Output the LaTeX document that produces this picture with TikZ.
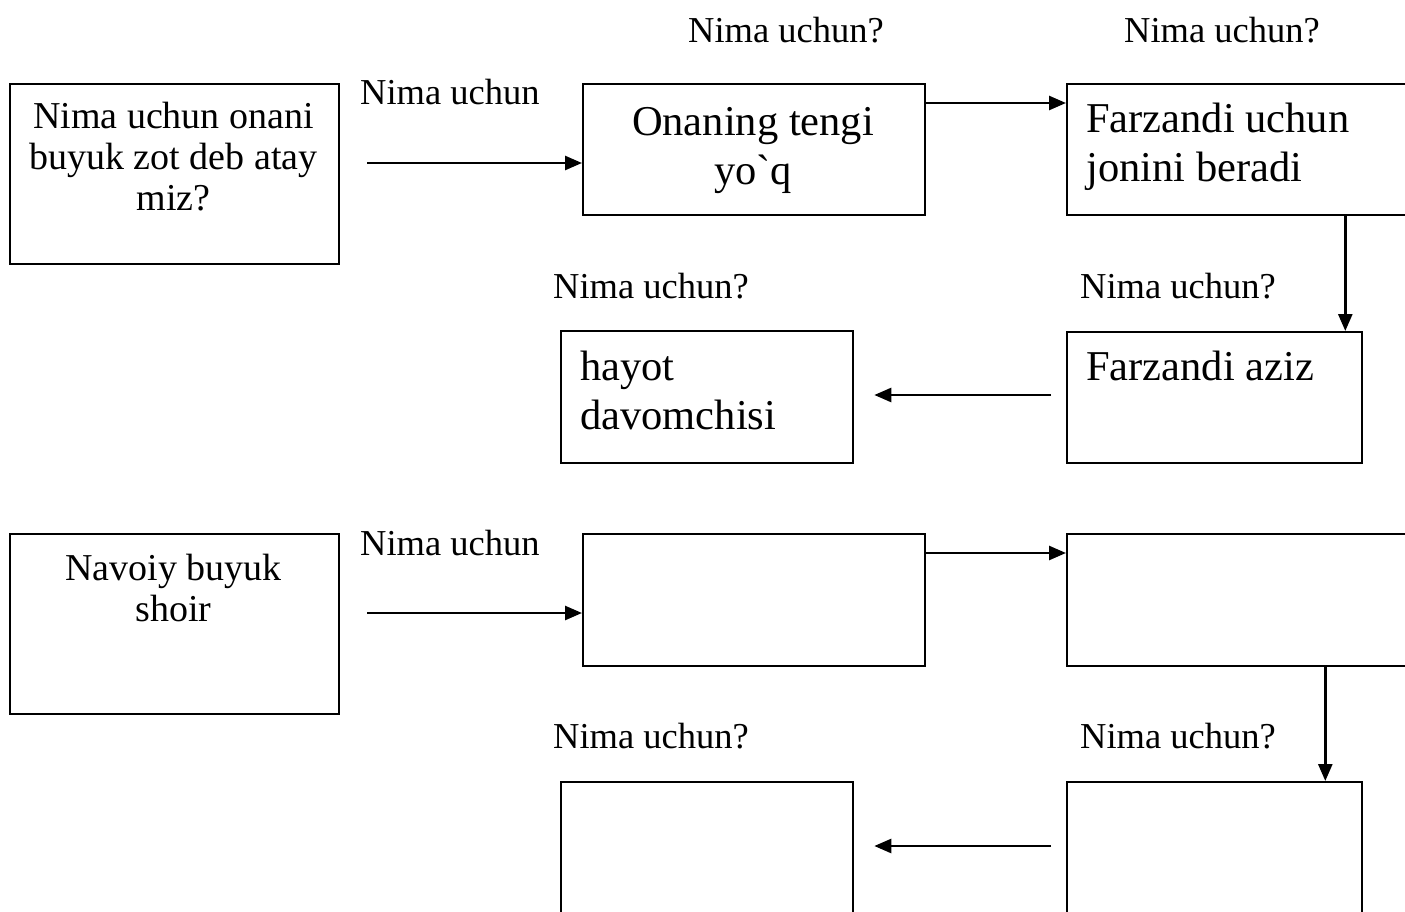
\documentclass[tikz,border=0pt]{standalone}
\usepackage{fontspec}
\setmainfont{Liberation Serif}
\newfontfamily\rawserif{Liberation Serif}
\usetikzlibrary{arrows.meta}
\tikzset{
  box/.style={draw=black, line width=2.3pt, rectangle, inner sep=0pt, anchor=north west},
  lbl/.style={inner sep=0pt, anchor=base west, font=\fontsize{36.5}{43}\selectfont},
  txta/.style={inner sep=0pt, anchor=base, align=center, font=\fontsize{38}{41}\selectfont},
  txtb/.style={inner sep=0pt, anchor=base, align=center, font=\fontsize{42.5}{49}\selectfont},
  txtl/.style={inner sep=0pt, anchor=base west, align=left, font=\fontsize{42.5}{49}\selectfont},
  arr/.style={line width=2.6pt, -{Triangle[length=17pt,width=14pt]}}
}
\begin{document}
\begin{tikzpicture}[x=1pt,y=-1pt]
\useasboundingbox (0,0) rectangle (1405,912);
\fill[white] (0,0) rectangle (1405,912);
% ---------- upper diagram ----------
\node[box, minimum width=329pt, minimum height=180pt] (A) at (9,83) {};
\node[box, minimum width=342pt, minimum height=131pt] (B) at (582,83) {};
\node[box, minimum width=360pt, minimum height=131pt] (C) at (1066,83) {};
\node[box, minimum width=295pt, minimum height=131pt] (D) at (1066,331) {};
\node[box, minimum width=292pt, minimum height=132pt] (E) at (560,330) {};
% multi-line texts: anchor 'base' is the baseline of the last line
\node[txta] (At) at (173.5,211) {Nima uchun onani\\buyuk zot deb atay\\miz?};
\node[txtb] (Bt) at (753,185) {Onaning tengi\\{\rawserif yo`q}};
\node[txtl] (Ct) at (1086,182) {Farzandi uchun\\jonini beradi};
\node[txtl] (Dt) at (1086,380) {Farzandi aziz};
\node[txtl] (Et) at (580,429) {hayot\\davomchisi};
\node[lbl] (L1) at (360,105) {Nima uchun};
\node[lbl] (L2) at (688,43) {Nima uchun?};
\node[lbl] (L3) at (1124,43) {Nima uchun?};
\node[lbl] (L4) at (553,298) {Nima uchun?};
\node[lbl] (L5) at (1080,298) {Nima uchun?};
\coordinate (a1) at (367,163);
\coordinate (d1) at (1051,395);
\draw[arr] (a1) -- (a1 -| B.west);
\draw[arr] ([yshift=-20pt]B.north east) -- ([yshift=-20pt]B.north east -| C.west);
\draw[arr] ([xshift=-18pt]D.north east |- C.south) -- ([xshift=-18pt]D.north east);
\draw[arr] (d1) -- ([xshift=20pt]E.east |- d1);
% ---------- lower diagram ----------
\node[box, minimum width=329pt, minimum height=180pt] (A2) at (9,533) {};
\node[box, minimum width=342pt, minimum height=132pt] (B2) at (582,533) {};
\node[box, minimum width=360pt, minimum height=132pt] (C2) at (1066,533) {};
\node[box, minimum width=295pt, minimum height=170pt] (D2) at (1066,781) {};
\node[box, minimum width=292pt, minimum height=170pt] (E2) at (560,781) {};
\node[txta] (A2t) at (173.5,621) {Navoiy buyuk\\shoir};
\node[lbl] (M1) at (360,555) {Nima uchun};
\node[lbl] (M4) at (553,748) {Nima uchun?};
\node[lbl] (M5) at (1080,748) {Nima uchun?};
\coordinate (a2) at (367,613);
\coordinate (d2) at (1051,846);
\draw[arr] (a2) -- (a2 -| B2.west);
\draw[arr] ([yshift=-20pt]B2.north east) -- ([yshift=-20pt]B2.north east -| C2.west);
\draw[arr] ([xshift=-38pt]D2.north east |- C2.south) -- ([xshift=-38pt]D2.north east);
\draw[arr] (d2) -- ([xshift=20pt]E2.east |- d2);
\end{tikzpicture}
\end{document}
